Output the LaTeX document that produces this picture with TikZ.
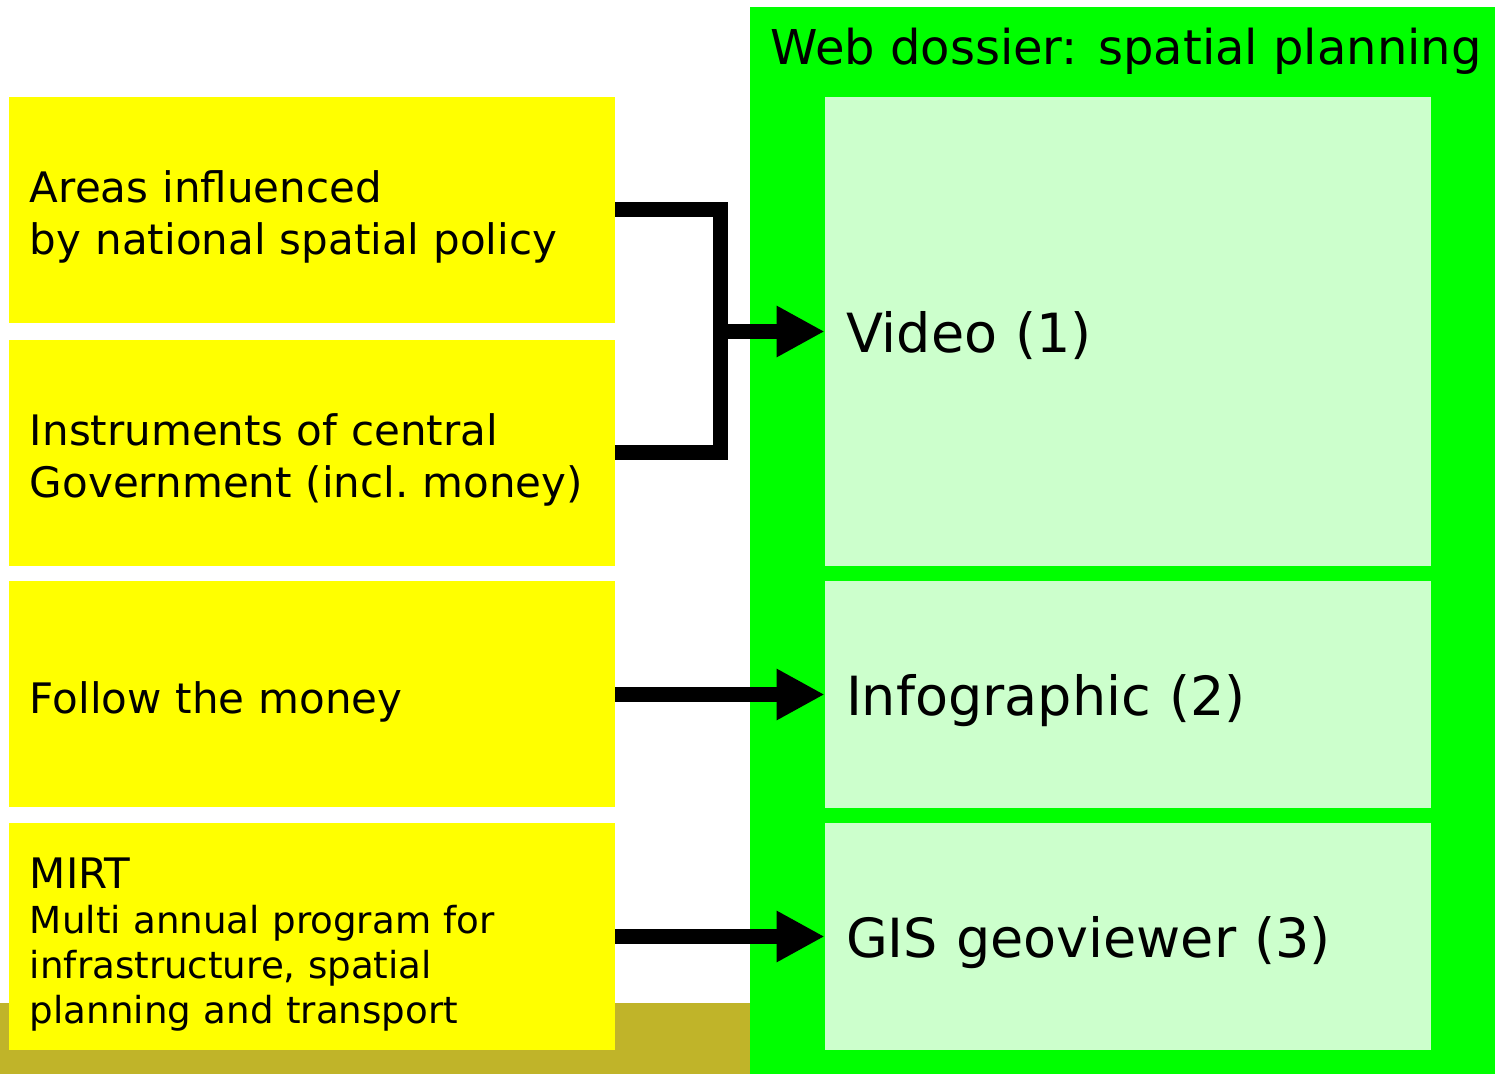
\documentclass[tikz,border=0pt]{standalone}
\usepackage{fontspec}
\setmainfont{DejaVu Sans}
\usetikzlibrary{arrows.meta}

\definecolor{srcyellow}{RGB}{255,255,0}
\definecolor{dossiergreen}{RGB}{0,255,0}
\definecolor{panegreen}{RGB}{204,255,204}
\definecolor{groundolive}{RGB}{192,180,41}

% struts that fix where the baselines sit in the boxes
\newcommand{\srctop}{\rule{0pt}{25pt}}
\newcommand{\srcbottom}{\rule[-6pt]{0pt}{6pt}}
\newcommand{\panetop}{\rule{0pt}{28pt}}
\newcommand{\panebottom}{\rule[-7pt]{0pt}{7pt}}

\begin{document}
\begin{tikzpicture}[x=0.5pt, y=-0.5pt,
  source/.style={fill=srcyellow, minimum width=303pt, minimum height=113pt, text width=282pt, inner xsep=10.5pt, align=left, font=\fontsize{21pt}{26pt}\selectfont,
    execute at begin node=\srctop, execute at end node=\srcbottom},
  pane/.style={fill=panegreen, minimum width=303pt, text width=282pt, inner xsep=10.5pt, align=left, font=\fontsize{27pt}{32pt}\selectfont,
    execute at begin node=\panetop, execute at end node=\panebottom},
  link/.style={line width=7.5pt, -{Triangle[length=24pt, width=24pt]}}]
\useasboundingbox (0,0) rectangle (1495,1074);
% Background
\fill[groundolive] (0,1003) rectangle (750,1074);
\fill[dossiergreen] (750,7) rectangle (1495,1074);
\node[font=\fontsize{24pt}{28pt}\selectfont, anchor=base] (title) at (1126,65) {Web dossier: spatial planning};
% Sources
\node[source] (areas) at (312,210) {Areas influenced\\by national spatial policy};
\node[source] (instr) at (312,453) {Instruments of central\\Government (incl.~money)};
\node[source] (money) at (312,694.5) {Follow the money};
\node[source, font=\fontsize{18.6pt}{22.5pt}\selectfont] (mirt) at (312,936.5) {{\fontsize{21pt}{22.5pt}\selectfont MIRT}\\Multi annual program for\\infrastructure, spatial\\planning and transport};
% Parts of the dossier
\node[pane, minimum height=234.5pt] (video) at (1128,331.5) {Video (1)};
\node[pane, minimum height=113.5pt] (info) at (1128,694.5) {Infographic (2)};
\node[pane, minimum height=113.5pt] (gis) at (1128,936.5) {GIS geoviewer (3)};
% Connectors
\coordinate (join) at (720,331.5);
\draw[line width=7.5pt] (areas.east) -| (join) |- (instr.east);
\draw[link] (join) -- (video.west);
\draw[link] (money.east) -- (info.west);
\draw[link] (mirt.east) -- (gis.west);
\end{tikzpicture}
\end{document}
